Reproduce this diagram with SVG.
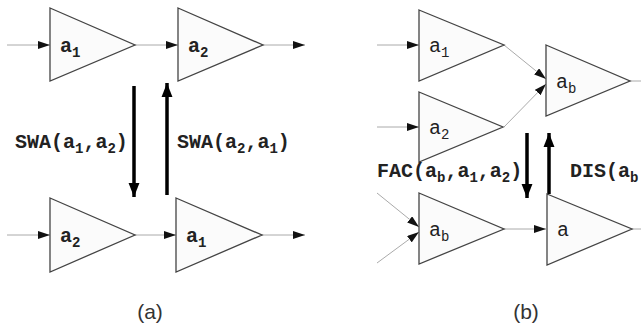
<svg xmlns="http://www.w3.org/2000/svg" width="641" height="326" viewBox="0 0 641 326">
<defs>
<marker id="ah" markerUnits="userSpaceOnUse" markerWidth="12" markerHeight="8" refX="12" refY="4" orient="auto"><path d="M0,0 L12,4 L0,8 Z" fill="#111"/></marker>
<marker id="big" markerUnits="userSpaceOnUse" markerWidth="14" markerHeight="18" refX="18" refY="7" orient="auto" viewBox="0 0 18 14"><path d="M0,0 L18,7 L0,14 Z" fill="#000"/></marker>
</defs>
<style>
.tri{fill:#fbfbfb;stroke:#444;stroke-width:1.3}
.c{stroke:#aaa;stroke-width:1;fill:none}
.thick{stroke:#000;stroke-width:3.5;fill:none}
.lb{font-family:"Liberation Mono","DejaVu Sans Mono",monospace;font-weight:bold;font-size:20px;fill:#222}
.nl{font-family:"Liberation Mono","DejaVu Sans Mono",monospace;font-size:20px;fill:#222}
.nb{font-weight:bold}
.sub{font-size:14px}
.cap{font-family:"Liberation Sans",Arial,sans-serif;font-size:21px;fill:#333}
</style>
<g id="connectors">
<line class="c" x1="7" y1="45" x2="50" y2="45" marker-end="url(#ah)"/>
<line class="c" x1="135" y1="45" x2="178" y2="45" marker-end="url(#ah)"/>
<line class="c" x1="263" y1="45" x2="305" y2="45" marker-end="url(#ah)"/>
<line class="c" x1="7" y1="235" x2="50" y2="235" marker-end="url(#ah)"/>
<line class="c" x1="135" y1="235" x2="176" y2="235" marker-end="url(#ah)"/>
<line class="c" x1="262" y1="235" x2="305" y2="235" marker-end="url(#ah)"/>
<line class="thick" x1="134" y1="86" x2="134" y2="197" marker-end="url(#big)"/>
<line class="thick" x1="167" y1="195" x2="167" y2="83" marker-end="url(#big)"/>
<line class="c" x1="377" y1="45" x2="419" y2="45" marker-end="url(#ah)"/>
<line class="c" x1="377" y1="127" x2="419" y2="127" marker-end="url(#ah)"/>
<line class="c" x1="504" y1="45" x2="546" y2="79" marker-end="url(#ah)"/>
<line class="c" x1="504" y1="127" x2="546" y2="84" marker-end="url(#ah)"/>
<line class="c" x1="630" y1="81" x2="641" y2="81"/>
<line class="c" x1="377" y1="193" x2="419" y2="227" marker-end="url(#ah)"/>
<line class="c" x1="377" y1="263" x2="419" y2="232" marker-end="url(#ah)"/>
<line class="c" x1="504" y1="229" x2="546" y2="229" marker-end="url(#ah)"/>
<line class="c" x1="632" y1="229" x2="641" y2="229"/>
<line class="thick" x1="527" y1="133" x2="527" y2="198" marker-end="url(#big)"/>
<line class="thick" x1="549" y1="194" x2="549" y2="133" marker-end="url(#big)"/>
</g>
<g id="a_top_a1"><polygon class="tri" points="50,8 135,45 50,81"/><text class="nl nb" x="60" y="52">a<tspan class="sub" dy="5">1</tspan></text></g>
<g id="a_top_a2"><polygon class="tri" points="178,8 263,45 178,81"/><text class="nl nb" x="188" y="52">a<tspan class="sub" dy="5">2</tspan></text></g>
<g id="a_bot_a2"><polygon class="tri" points="50,198 135,235 50,272"/><text class="nl nb" x="60" y="242">a<tspan class="sub" dy="5">2</tspan></text></g>
<g id="a_bot_a1"><polygon class="tri" points="176,198 262,235 176,272"/><text class="nl nb" x="186" y="242">a<tspan class="sub" dy="5">1</tspan></text></g>
<g id="b_top_a1"><polygon class="tri" points="419,10 504,45 419,81"/><text class="nl" x="429" y="52">a<tspan class="sub" dy="5">1</tspan></text></g>
<g id="b_top_a2"><polygon class="tri" points="419,92 503,127 419,162"/><text class="nl" x="429" y="134">a<tspan class="sub" dy="5">2</tspan></text></g>
<g id="b_top_ab"><polygon class="tri" points="546,45 630,81 546,116"/><text class="nl" x="556" y="88">a<tspan class="sub" dy="5">b</tspan></text></g>
<g id="b_bot_ab"><polygon class="tri" points="419,193 504,229 419,264"/><text class="nl" x="429" y="236">a<tspan class="sub" dy="5">b</tspan></text></g>
<g id="b_bot_a"><polygon class="tri" points="547,194 632,229 547,265"/><text class="nl" x="557" y="236">a</text></g>
<g id="labels">
<text class="lb" x="15" y="148">SWA(a<tspan class="sub" dy="5">1</tspan><tspan dy="-5">,a</tspan><tspan class="sub" dy="5">2</tspan><tspan dy="-5">)</tspan></text>
<text class="lb" x="177" y="148">SWA(a<tspan class="sub" dy="5">2</tspan><tspan dy="-5">,a</tspan><tspan class="sub" dy="5">1</tspan><tspan dy="-5">)</tspan></text>
<text class="lb" x="377" y="177">FAC(a<tspan class="sub" dy="5">b</tspan><tspan dy="-5">,a</tspan><tspan class="sub" dy="5">1</tspan><tspan dy="-5">,a</tspan><tspan class="sub" dy="5">2</tspan><tspan dy="-5">)</tspan></text>
<text class="lb" x="570" y="177">DIS(a<tspan class="sub" dy="5">b</tspan></text>
<text class="cap" x="150" y="319" text-anchor="middle">(a)</text>
<text class="cap" x="526" y="319" text-anchor="middle">(b)</text>
</g>
</svg>
